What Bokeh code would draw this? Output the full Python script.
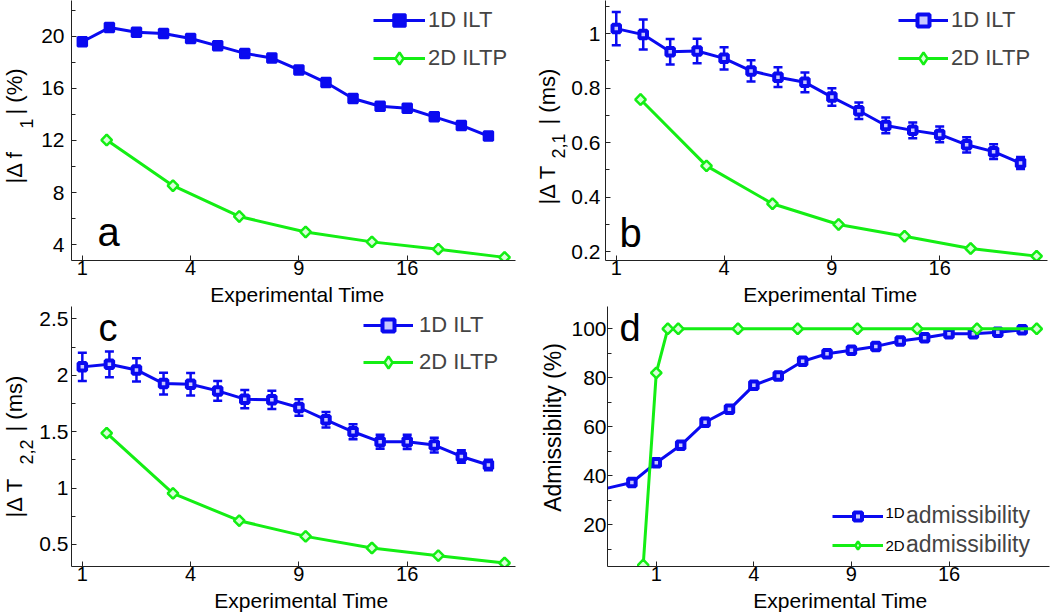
import numpy as np
from bokeh.plotting import figure
from bokeh.models import Range1d, FixedTicker, NumeralTickFormatter, Label, Legend, LegendItem
from bokeh.layouts import column, row
from bokeh.embed import file_html
from bokeh.resources import INLINE

# ---------------- data ----------------
# x positions on the square-root "Experimental Time" axis (tick 1,4,9,16 -> 1,2,3,4)
x_ticks = [1, 2, 3, 4]
x_tick_labels = ["1", "4", "9", "16"]

x_1d = [1.0, 1.25, 1.5, 1.75, 2.0, 2.25, 2.5, 2.75, 3.0, 3.25, 3.5, 3.75, 4.0, 4.25, 4.5, 4.75]
x_2d = [1.225, 1.837, 2.449, 3.062, 3.674, 4.287, 4.899]

f1_1d = [19.57, 20.66, 20.30, 20.20, 19.82, 19.26, 18.68, 18.32, 17.41, 16.44, 15.22, 14.62, 14.47, 13.81, 13.15, 12.33]
f1_2d = [12.03, 8.52, 6.16, 4.97, 4.21, 3.65, 3.02]

t21_1d = [1.018, 0.996, 0.933, 0.936, 0.909, 0.863, 0.840, 0.821, 0.767, 0.717, 0.663, 0.645, 0.630, 0.592, 0.567, 0.525]
t21_err = [0.061, 0.055, 0.047, 0.045, 0.041, 0.039, 0.036, 0.036, 0.032, 0.030, 0.029, 0.029, 0.029, 0.028, 0.027, 0.022]
t21_2d = [0.758, 0.515, 0.376, 0.300, 0.257, 0.212, 0.184]

t22_1d = [2.074, 2.097, 2.047, 1.926, 1.920, 1.861, 1.788, 1.782, 1.714, 1.605, 1.499, 1.410, 1.410, 1.381, 1.280, 1.204]
t22_err = [0.125, 0.114, 0.103, 0.096, 0.099, 0.088, 0.081, 0.081, 0.074, 0.069, 0.066, 0.062, 0.063, 0.066, 0.056, 0.047]
t22_2d = [1.487, 0.953, 0.711, 0.572, 0.469, 0.401, 0.336]

x_adm_1d = [0.5, 0.75, 1.0, 1.25, 1.5, 1.75, 2.0, 2.25, 2.5, 2.75, 3.0, 3.25, 3.5, 3.75, 4.0, 4.25, 4.5, 4.75]
adm_1d = [34.9, 37.2, 45.3, 52.4, 61.8, 67.1, 76.9, 80.7, 86.7, 89.8, 91.2, 92.8, 95.0, 96.3, 98.0, 98.0, 98.6, 99.6]
x_adm_2d = [0.866, 1.0, 1.118, 1.225, 1.837, 2.449, 3.062, 3.674, 4.287, 4.899]
adm_2d = [3.5, 82.0, 100.0, 100.0, 100.0, 100.0, 100.0, 100.0, 100.0, 100.0]

legend_1 = ["1D ILT", "2D ILTP"]
legend_d = ["admissibility", "admissibility"]
legend_d_sup = ["1D", "2D"]
xlabel = "Experimental Time"

# ---------------- style ----------------
BLUE = "#0a0af0"
GREEN = "#14ee14"
AX = "#222222"
FONT = "Liberation Sans"
K_BASE = 0.355   # baseline correction for Label text (fraction of font size)


def make_panel(L, T, W, H, xr, yr, bl, br, bt, bb, yticks, yminor, ystandoff):
    p = figure(x_range=Range1d(*xr), y_range=Range1d(*yr), frame_width=W, frame_height=H,
               min_border_left=bl, min_border_right=br, min_border_top=bt, min_border_bottom=bb,
               output_backend="svg", toolbar_location=None, tools="")
    p.grid.visible = False
    p.outline_line_color = None
    p.xaxis.ticker = FixedTicker(ticks=x_ticks, minor_ticks=[])
    p.xaxis.major_label_overrides = {t: s for t, s in zip(x_ticks, x_tick_labels)}
    p.yaxis.ticker = FixedTicker(ticks=yticks, minor_ticks=yminor)
    p.yaxis.formatter = NumeralTickFormatter(format="0.[0]")
    for ax in (p.xaxis, p.yaxis):
        ax.axis_line_color = AX
        ax.axis_line_width = 1
        ax.major_tick_line_color = AX
        ax.minor_tick_line_color = AX
        ax.major_tick_in = 5
        ax.major_tick_out = 0
        ax.minor_tick_in = 4
        ax.minor_tick_out = 0
        ax.major_label_text_font = FONT
        ax.major_label_text_color = "black"
    p.yaxis.major_label_text_font_size = "21px"
    p.xaxis.major_label_text_font_size = "20px"
    p.xaxis.major_label_standoff = 0
    p.yaxis.major_label_standoff = ystandoff
    geo = dict(L=L, T=T, W=W, H=H, xr=xr, yr=yr)
    return p, geo


def make_strip(x0, y0, w, h):
    p = figure(x_range=Range1d(x0, x0 + w), y_range=Range1d(-(y0 + h), -y0),
               frame_width=w, frame_height=h, min_border=0,
               x_axis_type=None, y_axis_type=None,
               output_backend="svg", toolbar_location=None, tools="")
    p.grid.visible = False
    p.outline_line_color = None
    geo = dict(L=x0, T=y0, W=w, H=h, xr=(x0, x0 + w), yr=(-(y0 + h), -y0))
    return p, geo


def to_data(geo, px, py):
    x0, x1 = geo["xr"]
    y0, y1 = geo["yr"]
    x = x0 + (px - geo["L"]) / geo["W"] * (x1 - x0)
    y = y1 - (py - geo["T"]) / geo["H"] * (y1 - y0)
    return x, y


def add_text(p, geo, text, px, py, size, angle=0.0, align="left"):
    # (px, py): baseline anchor in page pixels
    if angle == 0.0:
        py = py - K_BASE * size
    else:
        px = px - K_BASE * size
    x, y = to_data(geo, px, py)
    p.add_layout(Label(x=x, y=y, text=text, text_font=FONT, text_font_size=f"{size}px",
                       text_color="black", angle=angle, text_align=align,
                       text_baseline="alphabetic"))


def ylabel_pieces(p, geo, pieces):
    for text, start_y, base_x, size in pieces:
        add_text(p, geo, text, base_x, start_y, size, angle=np.pi / 2)


def series(p, xs, ys, color, marker, filled, err=None, skip_first_marker=False):
    r_line = p.line(xs, ys, line_color=color, line_width=3)
    if err is not None:
        lo = list(np.array(ys) - np.array(err))
        hi = list(np.array(ys) + np.array(err))
        p.segment(x0=xs, y0=lo, x1=xs, y1=hi, line_color=color, line_width=2.5)
        p.scatter(xs + xs, lo + hi, marker="dash", size=9, line_color=color, line_width=2.5)
    mx = xs[1:] if skip_first_marker else xs
    my = ys[1:] if skip_first_marker else ys
    if marker == "square":
        if filled:
            r_m = p.scatter(mx, my, marker="square", size=9, line_width=2.5,
                            line_color=color, fill_color=color)
        else:
            r_m = p.scatter(mx, my, marker="square", size=7.5, line_width=4,
                            line_color=color, fill_color="#c8c8ff")
        leg_m = r_m
    else:
        # legend swatch (legend draws markers unrotated): a diamond hidden under the points
        leg_m = p.scatter(mx, my, marker="diamond", size=10, line_width=2.5,
                          line_color=color, fill_color="#d8ffd8")
        p.scatter(mx, my, marker="square", angle=np.pi / 4, size=7.5, line_width=2.5,
                  line_color=color, fill_color="#d8ffd8")
    return [r_line, leg_m]


def add_legend(p, items, vx, vy, glyph_w, row_h, spacing, standoff, size):
    leg = Legend(items=[LegendItem(label=l, renderers=r) for l, r in items],
                 location=(vx, vy), glyph_width=glyph_w, glyph_height=row_h, label_height=row_h,
                 spacing=spacing, padding=0, margin=0, label_standoff=standoff,
                 border_line_color=None, background_fill_alpha=0,
                 label_text_font=FONT, label_text_font_size=f"{size}px")
    p.add_layout(leg)


# ---------------- panel a ----------------
pa, ga = make_panel(71, 0, 444, 260, (0.9, 5.0), (2.78, 22.74), 35, 15, 0, 22,
                    [4, 8, 12, 16, 20], [6, 10, 14, 18, 22], 7)
ra1 = series(pa, x_1d, f1_1d, BLUE, "square", True)
ra2 = series(pa, x_2d, f1_2d, GREEN, "diamond", False)
add_legend(pa, [(legend_1[0], ra1), (legend_1[1], ra2)], 302, 187, 52, 30, 8, 3, 22)
add_text(pa, ga, "a", 97, 246, 40)

# ---------------- panel b ----------------
pb, gb = make_panel(605, 0, 442, 260, (0.9, 5.0), (0.168, 1.121), 37, 1, 0, 22,
                    [0.2, 0.4, 0.6, 0.8, 1.0], [0.3, 0.5, 0.7, 0.9, 1.1], 5)
rb1 = series(pb, x_1d, t21_1d, BLUE, "square", False, err=t21_err)
rb2 = series(pb, x_2d, t21_2d, GREEN, "diamond", False)
add_legend(pb, [(legend_1[0], rb1), (legend_1[1], rb2)], 293, 187, 50, 30, 8, 3, 22)
add_text(pb, gb, "b", 619, 247, 40)

# ---------------- panel c ----------------
pc, gc = make_panel(71, 306, 444, 260, (0.9, 5.0), (0.305, 2.609), 35, 15, 0, 22,
                    [0.5, 1.0, 1.5, 2.0, 2.5], [0.75, 1.25, 1.75, 2.25], 3)
rc1 = series(pc, x_1d, t22_1d, BLUE, "square", False, err=t22_err)
rc2 = series(pc, x_2d, t22_2d, GREEN, "diamond", False)
add_legend(pc, [(legend_1[0], rc1), (legend_1[1], rc2)], 292, 189, 50, 30, 7, 6, 22)
add_text(pc, gc, "c", 98, 341, 38)

# ---------------- panel d ----------------
pd_, gd = make_panel(605, 306, 442, 260, (0.5, 5.03), (2.9, 109.1), 37, 1, 0, 22,
                     [20, 40, 60, 80, 100], [10, 30, 50, 70, 90], 1)
rd1 = series(pd_, x_adm_1d, adm_1d, BLUE, "square", False, skip_first_marker=True)
rd2 = series(pd_, x_adm_2d, adm_2d, GREEN, "diamond", False)
add_legend(pd_, [(legend_d[0], rd1), (legend_d[1], rd2)], 225, 8, 51, 20, 2, 23, 23)
add_text(pd_, gd, legend_d_sup[0], 883, 517, 15)
add_text(pd_, gd, legend_d_sup[1], 883, 550, 15)
add_text(pd_, gd, "d", 617, 341, 38)

# ---------------- label strips ----------------
ya, gya = make_strip(0, 0, 36, 282)
ylabel_pieces(ya, gya, [("|Δ f", 183, 22, 22), ("1", 128, 32, 18), ("| (%)", 114, 22, 22)])
yb, gyb = make_strip(530, 0, 38, 282)
ylabel_pieces(yb, gyb, [("|Δ T", 204, 555, 22), ("2,1", 158, 564, 18), ("| (ms)", 124, 555, 22)])
yc, gyc = make_strip(0, 306, 36, 282)
ylabel_pieces(yc, gyc, [("|Δ T", 517, 22, 22), ("2,2", 464, 32, 18), ("| (ms)", 431, 22, 22)])
yd, gyd = make_strip(530, 306, 38, 282)
add_text(yd, gyd, "Admissibility (%)", 561, 427, 23, angle=np.pi / 2, align="center")

xs1, gxs1 = make_strip(0, 282, 1048, 24)
add_text(xs1, gxs1, xlabel, 297, 301, 21, align="center")
add_text(xs1, gxs1, xlabel, 830, 301, 21, align="center")
xs2, gxs2 = make_strip(0, 588, 1048, 26)
add_text(xs2, gxs2, xlabel, 301, 607, 21, align="center")
add_text(xs2, gxs2, xlabel, 840, 607, 21, align="center")

layout = column(row(ya, pa, yb, pb), xs1, row(yc, pc, yd, pd_), xs2)
open("out.html", "w").write(file_html(layout, INLINE))
